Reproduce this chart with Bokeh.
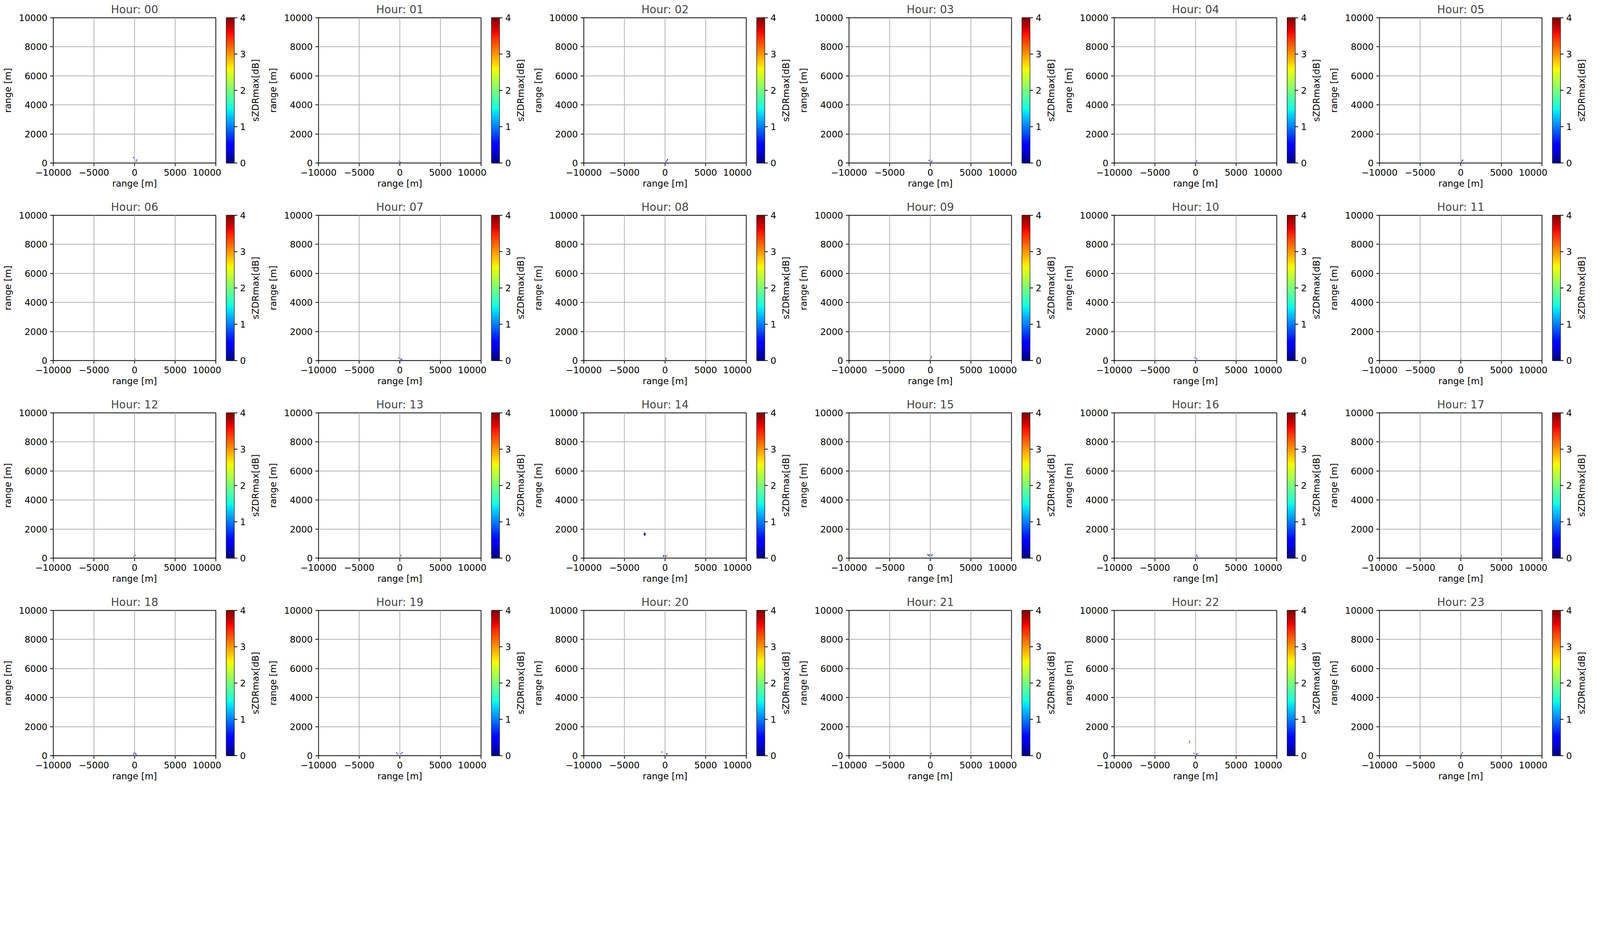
import numpy as np
from bokeh.plotting import figure
from bokeh.layouts import gridplot
from bokeh.models import LinearColorMapper, FixedTicker, Range1d, ColumnDataSource
from bokeh.embed import file_html
from bokeh.resources import INLINE

# ---------------- data ----------------
hours = [f"{h:02d}" for h in range(24)]
x_ticks = [-10000, -5000, 0, 5000, 10000]
y_ticks = [0, 2000, 4000, 6000, 8000, 10000]
cbar_ticks = [0, 1, 2, 3, 4]
cbar_low, cbar_high = 0, 4
x_label = "range [m]"
y_label = "range [m]"
cbar_label = "sZDRmax[dB]"

# echoes: hour index, x [m], y [m], sZDRmax [dB]
pt_hour = [0, 0, 0, 0,
           1, 1,
           2, 2, 2,
           3, 3, 3, 3,
           4, 4,
           5, 5, 5,
           6,
           7, 7, 7,
           8, 8,
           9, 9, 9,
           10, 10,
           11,
           12, 12,
           13, 13,
           14, 14, 14, 14, 14, 14, 14, 14, 14, 14, 14, 14, 14,
           15, 15, 15, 15, 15, 15, 15, 15,
           16, 16, 16,
           17, 17,
           18, 18, 18, 18,
           19, 19, 19, 19,
           20, 20, 20,
           21, 21,
           22, 22, 22, 22, 22, 22,
           23, 23]
pt_x = [-140, 20, 185, 265,
        -80, 60,
        120, 220, 300,
        -150, -40, 100, 220,
        60, 160,
        80, 160, 240,
        40,
        -120, 130, 250,
        60, 150,
        -30, 60, 140,
        -80, 150,
        20,
        -60, 80,
        40, 120,
        -2505, -2505, -2505, -2505, -2600, -2410, -250, -135, -180, 125, 80, 290, 250,
        -330, -190, -55, 120, 240, 40, 100, -150,
        60, 160, 240,
        20, 100,
        -150, -50, 100, 200,
        -400, -250, 150, 300,
        -370, 200, 250,
        30, 120,
        -780, -780, -740, -200, 120, 200,
        80, 200]
pt_y = [370, 280, 115, 205,
        120, 60,
        90, 170, 230,
        160, 220, 90, 130,
        80, 160,
        60, 140, 200,
        100,
        180, 120, 60,
        80, 160,
        60, 150, 250,
        200, 130,
        90,
        120, 200,
        100, 200,
        1560, 1620, 1680, 1740, 1650, 1650, 185, 160, 115, 160, 90, 230, 185,
        230, 210, 260, 185, 230, 115, 100, 150,
        120, 220, 100,
        80, 150,
        100, 200, 150, 80,
        200, 120, 140, 220,
        250, 115, 140,
        100, 160,
        1050, 990, 940, 160, 90, 120,
        90, 200]
pt_val = [0.1, 1.0, 0.15, 0.4,
          0.3, 0.1,
          0.2, 0.1, 0.3,
          0.4, 0.2, 0.1, 0.6,
          0.2, 0.3,
          0.1, 0.2, 0.1,
          0.3,
          0.2, 0.1, 0.4,
          0.2, 0.1,
          0.3, 0.1, 0.2,
          0.5, 0.2,
          0.2,
          0.1, 0.3,
          0.2, 0.1,
          0.05, 0.1, 0.05, 0.1, 0.1, 0.1, 1.4, 3.9, 0.1, 0.1, 0.5, 3.0, 2.6,
          3.8, 3.9, 0.5, 0.1, 0.1, 2.6, 1.4, 0.1,
          0.2, 0.1, 0.3,
          0.1, 0.2,
          0.2, 0.5, 0.1, 0.3,
          0.2, 0.1, 0.3, 0.1,
          0.1, 0.1, 0.1,
          0.2, 0.1,
          2.0, 2.8, 0.1, 0.1, 0.1, 0.1,
          0.1, 0.2]

# ---------------- colormap (matplotlib "jet") ----------------
def jet_palette(n=256):
    t = np.linspace(0, 1, n)
    r = np.interp(t, [0, 0.35, 0.66, 0.89, 1], [0, 0, 1, 1, 0.5])
    g = np.interp(t, [0, 0.125, 0.375, 0.64, 0.91, 1], [0, 0, 1, 1, 0, 0])
    b = np.interp(t, [0, 0.11, 0.34, 0.65, 1], [0.5, 1, 1, 0, 0])
    return ["#%02x%02x%02x" % (int(round(rr * 255)), int(round(gg * 255)), int(round(bb * 255)))
            for rr, gg, bb in zip(r, g, b)]

JET = jet_palette()
FONT = "DejaVu Sans"
TICK_FS = "23px"
LABEL_FS = "23px"
TITLE_FS = "28px"
LW = 1.9

FW, FH = 416, 372            # frame size
BL, BR = 136, 14             # main figure borders
CBL, CBW, CBR = 13, 20, 36   # colour bar figure borders / width
LBL, LBW, LBR = 31, 1, 12    # colour-bar label figure
BT, BB = 45, 89              # top / bottom borders

rows = []
hour_arr = np.array(pt_hour)
x_arr = np.array(pt_x, dtype=float)
y_arr = np.array(pt_y, dtype=float)
v_arr = np.array(pt_val, dtype=float)


def style_axis(ax):
    ax.axis_line_color = None
    ax.major_tick_line_width = LW
    ax.major_tick_line_color = "black"
    ax.major_tick_out = 8
    ax.major_tick_in = 0
    ax.minor_tick_line_color = None
    ax.major_label_text_font = FONT
    ax.major_label_text_font_size = TICK_FS
    ax.major_label_text_color = "black"
    ax.major_label_standoff = 7
    ax.axis_label_text_font = FONT
    ax.axis_label_text_font_size = LABEL_FS
    ax.axis_label_text_font_style = "normal"
    ax.axis_label_text_color = "black"


for r in range(4):
    row = []
    for c in range(6):
        h = r * 6 + c
        mapper = LinearColorMapper(palette=JET, low=cbar_low, high=cbar_high)
        p = figure(frame_width=FW, frame_height=FH,
                   x_range=Range1d(x_ticks[0], x_ticks[-1]),
                   y_range=Range1d(y_ticks[0], y_ticks[-1]),
                   min_border_left=BL, min_border_right=BR,
                   min_border_top=BT, min_border_bottom=BB,
                   output_backend="svg", toolbar_location=None,
                   title=f"Hour: {hours[h]}")
        p.title.text_font = FONT
        p.title.text_font_size = TITLE_FS
        p.title.text_font_style = "normal"
        p.title.align = "center"
        p.title.standoff = 10
        p.background_fill_color = "white"
        p.border_fill_color = "white"
        p.outline_line_color = "black"
        p.outline_line_width = LW

        m = hour_arr == h
        src = ColumnDataSource(dict(x=x_arr[m], y=y_arr[m], v=v_arr[m]))
        p.rect(x="x", y="y", width=120, height=60, source=src,
               fill_color={"field": "v", "transform": mapper}, line_color=None)

        p.xaxis.ticker = FixedTicker(ticks=x_ticks)
        p.yaxis.ticker = FixedTicker(ticks=y_ticks)
        p.xaxis.major_label_overrides = {t: (("\u2212" + str(-t)) if t < 0 else str(t)) for t in x_ticks}
        p.xaxis.axis_label = x_label
        p.yaxis.axis_label = y_label
        style_axis(p.xaxis[0])
        style_axis(p.yaxis[0])
        p.xaxis.axis_label_standoff = 4
        p.yaxis.axis_label_standoff = 12
        for g in (p.xgrid[0], p.ygrid[0]):
            g.grid_line_color = "#b0b0b0"
            g.grid_line_width = LW
            g.level = "overlay"
        p.xgrid.ticker = FixedTicker(ticks=x_ticks)
        p.ygrid.ticker = FixedTicker(ticks=y_ticks)

        # colour bar as its own narrow figure
        cb = figure(frame_width=CBW, frame_height=FH,
                    x_range=Range1d(0, 1), y_range=Range1d(cbar_low, cbar_high),
                    min_border_left=CBL, min_border_right=CBR,
                    min_border_top=BT, min_border_bottom=BB,
                    x_axis_location=None, y_axis_location="right",
                    output_backend="svg", toolbar_location=None)
        grad = np.linspace(cbar_low, cbar_high, 256).reshape(256, 1)
        cb.image(image=[grad], x=0, y=cbar_low, dw=1, dh=cbar_high - cbar_low, color_mapper=mapper)
        cb.grid.visible = False
        cb.outline_line_color = "black"
        cb.outline_line_width = LW
        cb.border_fill_color = "white"
        cb.yaxis.ticker = FixedTicker(ticks=cbar_ticks)
        style_axis(cb.yaxis[0])

        # colour-bar label: a blank strip whose left axis carries the label
        lb = figure(frame_width=LBW, frame_height=FH,
                    x_range=Range1d(0, 1), y_range=Range1d(cbar_low, cbar_high),
                    min_border_left=LBL, min_border_right=LBR,
                    min_border_top=BT, min_border_bottom=BB,
                    x_axis_location=None, y_axis_location="left",
                    output_backend="svg", toolbar_location=None)
        lb.grid.visible = False
        lb.outline_line_color = None
        lb.border_fill_color = "white"
        lb.background_fill_color = "white"
        lb.yaxis.ticker = FixedTicker(ticks=[])
        style_axis(lb.yaxis[0])
        lb.yaxis.major_tick_line_color = None
        lb.yaxis.axis_label = cbar_label
        lb.yaxis.axis_label_standoff = 0

        row.extend([p, cb, lb])
    rows.append(row)

grid = gridplot(rows, toolbar_location=None)
open("out.html", "w").write(file_html(grid, INLINE))
